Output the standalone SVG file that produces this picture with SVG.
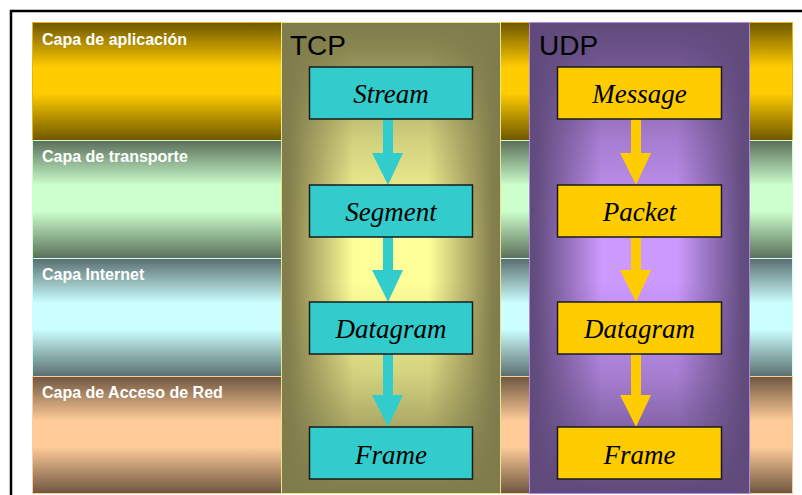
<svg xmlns="http://www.w3.org/2000/svg" width="802" height="495" viewBox="0 0 802 495">
<defs>
<linearGradient id="gL1" x1="0" y1="0" x2="0" y2="1"><stop offset="0" stop-color="#6e5700"/><stop offset="0.38" stop-color="#ffcc00"/><stop offset="0.6" stop-color="#ffcc00"/><stop offset="1" stop-color="#6e5700"/></linearGradient>
<linearGradient id="gL2" x1="0" y1="0" x2="0" y2="1"><stop offset="0" stop-color="#5a6e5a"/><stop offset="0.38" stop-color="#ccffcc"/><stop offset="0.6" stop-color="#ccffcc"/><stop offset="1" stop-color="#5a6e5a"/></linearGradient>
<linearGradient id="gL3" x1="0" y1="0" x2="0" y2="1"><stop offset="0" stop-color="#5a6e6e"/><stop offset="0.38" stop-color="#ccffff"/><stop offset="0.6" stop-color="#ccffff"/><stop offset="1" stop-color="#5a6e6e"/></linearGradient>
<linearGradient id="gL4" x1="0" y1="0" x2="0" y2="1"><stop offset="0" stop-color="#6e5640"/><stop offset="0.38" stop-color="#ffcc99"/><stop offset="0.6" stop-color="#ffcc99"/><stop offset="1" stop-color="#6e5640"/></linearGradient>
<linearGradient id="gTcpH" x1="0" y1="0" x2="1" y2="0"><stop offset="0" stop-color="#7f7b4b"/><stop offset="0.04" stop-color="#85804e"/><stop offset="0.33" stop-color="#ffff99"/><stop offset="0.67" stop-color="#ffff99"/><stop offset="0.96" stop-color="#85804e"/><stop offset="1" stop-color="#7f7b4b"/></linearGradient>
<linearGradient id="gTcpV" x1="0" y1="0" x2="0" y2="1"><stop offset="0" stop-color="#7f7b4b" stop-opacity="1"/><stop offset="0.06" stop-color="#7f7b4b" stop-opacity="0.9"/><stop offset="0.25" stop-color="#7f7b4b" stop-opacity="0.35"/><stop offset="0.45" stop-color="#7f7b4b" stop-opacity="0"/><stop offset="0.55" stop-color="#7f7b4b" stop-opacity="0"/><stop offset="0.75" stop-color="#7f7b4b" stop-opacity="0.35"/><stop offset="0.94" stop-color="#7f7b4b" stop-opacity="0.9"/><stop offset="1" stop-color="#7f7b4b" stop-opacity="1"/></linearGradient>
<linearGradient id="gUdpH" x1="0" y1="0" x2="1" y2="0"><stop offset="0" stop-color="#604a7b"/><stop offset="0.04" stop-color="#654e82"/><stop offset="0.33" stop-color="#cc99ff"/><stop offset="0.67" stop-color="#cc99ff"/><stop offset="0.96" stop-color="#654e82"/><stop offset="1" stop-color="#604a7b"/></linearGradient>
<linearGradient id="gUdpV" x1="0" y1="0" x2="0" y2="1"><stop offset="0" stop-color="#604a7b" stop-opacity="1"/><stop offset="0.06" stop-color="#604a7b" stop-opacity="0.9"/><stop offset="0.25" stop-color="#604a7b" stop-opacity="0.35"/><stop offset="0.45" stop-color="#604a7b" stop-opacity="0"/><stop offset="0.55" stop-color="#604a7b" stop-opacity="0"/><stop offset="0.75" stop-color="#604a7b" stop-opacity="0.35"/><stop offset="0.94" stop-color="#604a7b" stop-opacity="0.9"/><stop offset="1" stop-color="#604a7b" stop-opacity="1"/></linearGradient>
</defs>
<style>
.lbl{font-family:"Liberation Sans",Arial,sans-serif;font-weight:bold;font-size:16px;fill:#ffffff}
.proto{font-family:"Liberation Sans",Arial,sans-serif;font-size:28px;fill:#000000}
.bt{font-family:"Liberation Serif","Times New Roman",serif;font-style:italic;font-size:27px;fill:#000000;text-anchor:middle}
.tbox{fill:#33cccc;stroke:#1a1a1a;stroke-width:1.5}
.ubox{fill:#ffcc00;stroke:#1a1a1a;stroke-width:1.5}
.ta{fill:#33cccc}
.ua{fill:#ffcc00}
</style>
<rect x="0" y="0" width="802" height="495" fill="#ffffff"/>
<path d="M11 495 V11 H802" fill="none" stroke="#000000" stroke-width="2.5"/>
<g id="layer-aplicacion">
<rect x="32.5" y="22.5" width="760" height="118" fill="url(#gL1)" stroke="#e6b800" stroke-width="1"/>
<text class="lbl" x="42" y="45">Capa de aplicación</text>
</g>
<g id="layer-transporte">
<rect x="32.5" y="140.5" width="760" height="118" fill="url(#gL2)" stroke="#ccffcc" stroke-width="1"/>
<text class="lbl" x="42" y="162">Capa de transporte</text>
</g>
<g id="layer-internet">
<rect x="32.5" y="258.5" width="760" height="118" fill="url(#gL3)" stroke="#ccffff" stroke-width="1"/>
<text class="lbl" x="42" y="280">Capa Internet</text>
</g>
<g id="layer-acceso">
<rect x="32.5" y="376.5" width="760" height="117" fill="url(#gL4)" stroke="#ffcc99" stroke-width="1"/>
<text class="lbl" x="42" y="398">Capa de Acceso de Red</text>
</g>
<g id="tcp-column">
<rect x="281" y="22" width="220" height="472" fill="url(#gTcpH)"/>
<rect x="281" y="22" width="220" height="472" fill="url(#gTcpV)"/>
<rect x="281.5" y="22.5" width="219" height="471" fill="none" stroke="#e6e68a" stroke-width="1"/>
<text class="proto" x="290" y="55">TCP</text>
</g>
<g id="udp-column">
<rect x="529" y="22" width="221" height="472" fill="url(#gUdpH)"/>
<rect x="529" y="22" width="221" height="472" fill="url(#gUdpV)"/>
<rect x="529.5" y="22.5" width="220" height="471" fill="none" stroke="#b38ae0" stroke-width="1"/>
<text class="proto" x="539" y="55">UDP</text>
</g>
<g id="connectors">
<path class="ta" d="M383 119 H393 V153 H403 L388 185 L372 153 H383 Z"/>
<path class="ta" d="M383 237 H393 V270 H403 L388 302 L372 270 H383 Z"/>
<path class="ta" d="M383 354 H393 V395 H403 L388 427 L372 395 H383 Z"/>
<path class="ua" d="M631 119 H641 V153 H651 L636 185 L620 153 H631 Z"/>
<path class="ua" d="M631 237 H641 V270 H651 L636 302 L620 270 H631 Z"/>
<path class="ua" d="M631 354 H641 V395 H651 L636 427 L620 395 H631 Z"/>
</g>
<g id="tcp-stream"><rect class="tbox" x="309.5" y="67" width="163" height="52"/><text class="bt" x="391" y="103">Stream</text></g>
<g id="tcp-segment"><rect class="tbox" x="309.5" y="185" width="163" height="52"/><text class="bt" x="391" y="221">Segment</text></g>
<g id="tcp-datagram"><rect class="tbox" x="309.5" y="302" width="163" height="52"/><text class="bt" x="391" y="338">Datagram</text></g>
<g id="tcp-frame"><rect class="tbox" x="309.5" y="427" width="163" height="52"/><text class="bt" x="391" y="464">Frame</text></g>
<g id="udp-message"><rect class="ubox" x="557.5" y="67" width="164" height="52"/><text class="bt" x="639.5" y="103">Message</text></g>
<g id="udp-packet"><rect class="ubox" x="557.5" y="185" width="164" height="52"/><text class="bt" x="639.5" y="221">Packet</text></g>
<g id="udp-datagram"><rect class="ubox" x="557.5" y="302" width="164" height="52"/><text class="bt" x="639.5" y="338">Datagram</text></g>
<g id="udp-frame"><rect class="ubox" x="557.5" y="427" width="164" height="52"/><text class="bt" x="639.5" y="464">Frame</text></g>
</svg>
